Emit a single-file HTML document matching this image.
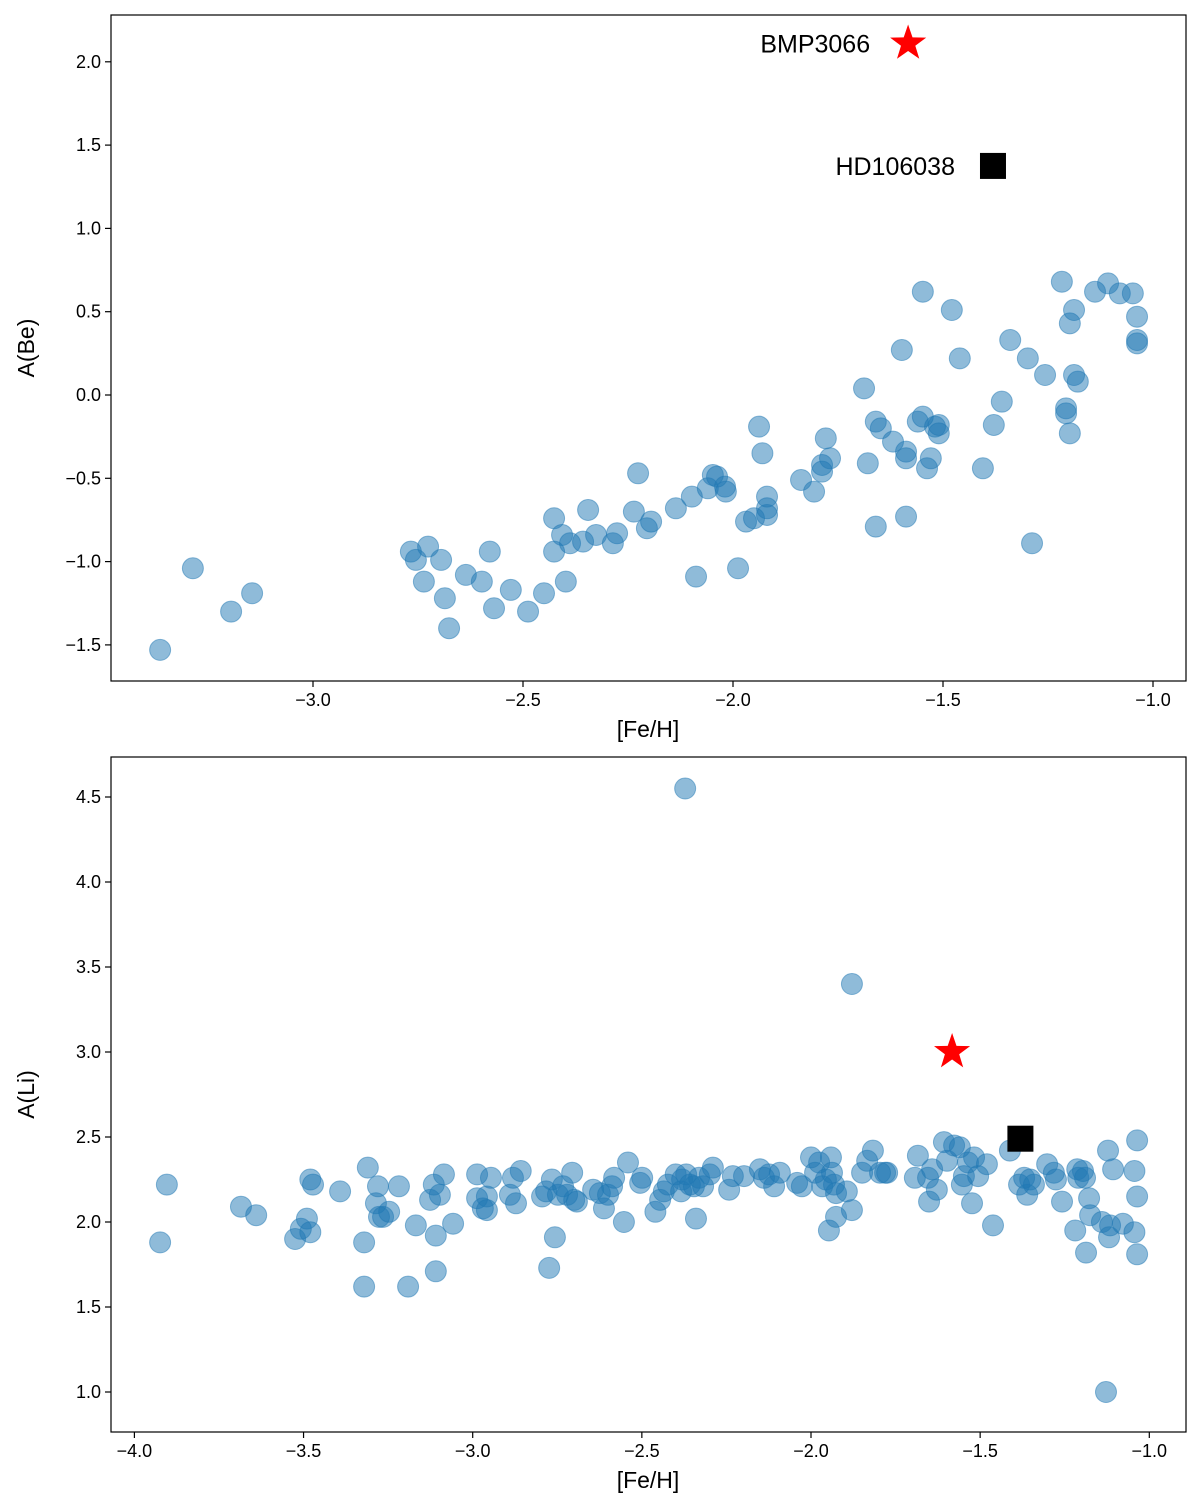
<!DOCTYPE html>
<html><head><meta charset="utf-8"><style>
body{margin:0;background:#fff;}
svg{display:block;font-family:"Liberation Sans","DejaVu Sans",sans-serif;}
</style></head><body>
<svg id="chart" width="1200" height="1500" xmlns="http://www.w3.org/2000/svg"></svg>
<script>
const beFe=[-3.364,-3.286,-3.195,-3.145,-2.767,-2.755,-2.726,-2.736,-2.695,-2.686,-2.676,-2.636,-2.598,-2.579,-2.569,-2.529,-2.488,-2.45,-2.426,-2.426,-2.407,-2.398,-2.388,-2.357,-2.345,-2.326,-2.286,-2.276,-2.236,-2.226,-2.205,-2.195,-2.136,-2.098,-2.088,-2.06,-2.048,-2.038,-2.019,-2.017,-1.988,-1.969,-1.95,-1.938,-1.93,-1.919,-1.919,-1.919,-1.838,-1.807,-1.788,-1.788,-1.779,-1.769,-1.688,-1.679,-1.66,-1.66,-1.648,-1.619,-1.598,-1.588,-1.588,-1.588,-1.56,-1.548,-1.548,-1.538,-1.529,-1.519,-1.51,-1.51,-1.479,-1.46,-1.405,-1.379,-1.36,-1.34,-1.298,-1.288,-1.257,-1.217,-1.207,-1.207,-1.198,-1.198,-1.188,-1.188,-1.179,-1.138,-1.107,-1.079,-1.048,-1.038,-1.038,-1.038];
const beVal=[-1.53,-1.04,-1.30,-1.19,-0.94,-0.99,-0.91,-1.12,-0.99,-1.22,-1.40,-1.08,-1.12,-0.94,-1.28,-1.17,-1.30,-1.19,-0.74,-0.94,-0.84,-1.12,-0.89,-0.88,-0.69,-0.84,-0.89,-0.83,-0.70,-0.47,-0.80,-0.76,-0.68,-0.61,-1.09,-0.56,-0.48,-0.49,-0.55,-0.58,-1.04,-0.76,-0.74,-0.19,-0.35,-0.61,-0.68,-0.72,-0.51,-0.58,-0.42,-0.46,-0.26,-0.38,0.04,-0.41,-0.16,-0.79,-0.20,-0.28,0.27,-0.34,-0.38,-0.73,-0.16,0.62,-0.13,-0.44,-0.38,-0.19,-0.18,-0.23,0.51,0.22,-0.44,-0.18,-0.04,0.33,0.22,-0.89,0.12,0.68,-0.08,-0.11,0.43,-0.23,0.51,0.12,0.08,0.62,0.67,0.61,0.61,0.47,0.33,0.31];
const liFe=[-3.924,-3.904,-3.685,-3.64,-3.525,-3.508,-3.49,-3.48,-3.48,-3.472,-3.392,-3.321,-3.321,-3.31,-3.286,-3.28,-3.277,-3.265,-3.247,-3.218,-3.191,-3.168,-3.126,-3.115,-3.109,-3.109,-3.097,-3.085,-3.058,-2.987,-2.987,-2.97,-2.958,-2.958,-2.946,-2.89,-2.881,-2.872,-2.858,-2.795,-2.783,-2.774,-2.766,-2.757,-2.748,-2.733,-2.721,-2.706,-2.7,-2.692,-2.644,-2.624,-2.612,-2.6,-2.588,-2.582,-2.553,-2.541,-2.505,-2.499,-2.46,-2.446,-2.435,-2.423,-2.4,-2.384,-2.381,-2.372,-2.369,-2.358,-2.346,-2.34,-2.331,-2.319,-2.299,-2.29,-2.242,-2.231,-2.198,-2.151,-2.139,-2.124,-2.109,-2.092,-2.041,-2.027,-2.0,-1.988,-1.976,-1.967,-1.956,-1.947,-1.941,-1.938,-1.932,-1.926,-1.926,-1.894,-1.879,-1.879,-1.849,-1.834,-1.817,-1.796,-1.781,-1.775,-1.693,-1.684,-1.654,-1.651,-1.642,-1.628,-1.607,-1.598,-1.577,-1.56,-1.554,-1.548,-1.536,-1.524,-1.518,-1.506,-1.48,-1.462,-1.412,-1.385,-1.37,-1.361,-1.352,-1.341,-1.302,-1.282,-1.276,-1.258,-1.219,-1.213,-1.21,-1.196,-1.19,-1.187,-1.178,-1.175,-1.14,-1.128,-1.122,-1.119,-1.116,-1.107,-1.078,-1.044,-1.044,-1.036,-1.036,-1.036];
const liVal=[1.88,2.22,2.09,2.04,1.90,1.96,2.02,2.25,1.94,2.22,2.18,1.88,1.62,2.32,2.11,2.21,2.03,2.03,2.06,2.21,1.62,1.98,2.13,2.22,1.92,1.71,2.16,2.28,1.99,2.28,2.14,2.08,2.15,2.07,2.26,2.16,2.26,2.11,2.30,2.15,2.18,1.73,2.25,1.91,2.16,2.21,2.16,2.29,2.13,2.12,2.19,2.17,2.08,2.16,2.21,2.26,2.00,2.35,2.23,2.26,2.06,2.13,2.18,2.22,2.28,2.18,2.25,4.55,2.28,2.22,2.21,2.02,2.26,2.21,2.28,2.32,2.19,2.27,2.27,2.31,2.26,2.28,2.21,2.29,2.23,2.21,2.38,2.29,2.35,2.21,2.25,1.95,2.38,2.29,2.22,2.17,2.03,2.18,3.40,2.07,2.29,2.36,2.42,2.29,2.29,2.29,2.26,2.39,2.26,2.12,2.31,2.19,2.47,2.36,2.45,2.44,2.22,2.27,2.35,2.11,2.38,2.27,2.34,1.98,2.42,2.22,2.26,2.16,2.25,2.22,2.34,2.29,2.25,2.12,1.95,2.31,2.26,2.30,2.26,1.82,2.14,2.04,2.00,1.00,2.42,1.91,1.98,2.31,1.99,2.30,1.94,2.48,2.15,1.81];
const bmpFe=-1.583, bmpBe=2.11, bmpLi=3.0;
const hdFe=-1.381, hdBe=1.375, hdLi=2.49;
const topXTicks=[-3.0,-2.5,-2.0,-1.5,-1.0];
const topYTicks=[2.0,1.5,1.0,0.5,0.0,-0.5,-1.0,-1.5];
const botXTicks=[-4.0,-3.5,-3.0,-2.5,-2.0,-1.5,-1.0];
const botYTicks=[4.5,4.0,3.5,3.0,2.5,2.0,1.5,1.0];

const svg=document.getElementById('chart');
const NS='http://www.w3.org/2000/svg';
function mk(tag,attrs,parent){const e=document.createElementNS(NS,tag);for(const k in attrs)e.setAttribute(k,attrs[k]);(parent||svg).appendChild(e);return e;}
function fmt(v){return (v<0?'\u2212':'')+Math.abs(v).toFixed(1);}
function starPts(cx,cy,R,r){let p=[];for(let i=0;i<10;i++){const a=-Math.PI/2+i*Math.PI/5;const rr=i%2?r:R;p.push((cx+rr*Math.cos(a)).toFixed(1)+','+(cy+rr*Math.sin(a)).toFixed(1));}return p.join(' ');}

function panel(o){
  const g=mk('g',{});
  
  
  const X=v=>o.x0px+(v-o.x0v)*o.xs, Y=v=>o.y0px-(v-o.y0v)*o.ys;
  const pts=mk('g',{},g);
  
  
  o.xs_.forEach((xv,i)=>{
    const c=mk('circle',{cx:X(xv),cy:Y(o.ys_[i]),r:10.5,fill:'#1f77b4','fill-opacity':0.5,stroke:'#1f77b4','stroke-opacity':0.5,'stroke-width':1},pts);
    
    
  });
  const s=mk('polygon',{points:starPts(X(bmpFe),Y(o.bmp),19,7.5),fill:'#ff0000'},g);
  
  
  const q=mk('rect',{x:X(hdFe)-13,y:Y(o.hd)-13,width:26,height:26,fill:'#000'},g);
  
  
  if(o.labels){
    const t1=mk('text',{x:X(bmpFe)-38,y:Y(o.bmp)+9,'text-anchor':'end','font-size':25,fill:'#000'},g);
    t1.textContent='BMP3066';
    
    
    const t2=mk('text',{x:X(hdFe)-38,y:Y(o.hd)+9,'text-anchor':'end','font-size':25,fill:'#000'},g);
    t2.textContent='HD106038';
    
    
  }
  const fr=mk('rect',{x:111,y:o.top,width:1075,height:o.bot-o.top,fill:'none',stroke:'#000','stroke-width':1.2},g);
  
  
  o.xt.forEach(v=>{
    mk('line',{x1:X(v),x2:X(v),y1:o.bot,y2:o.bot+6,stroke:'#000','stroke-width':1.2},g);
    const t=mk('text',{x:X(v),y:o.bot+25,'text-anchor':'middle','font-size':18},g);
    t.textContent=fmt(v);
    
    
  });
  o.yt.forEach(v=>{
    mk('line',{x1:105,x2:111,y1:Y(v),y2:Y(v),stroke:'#000','stroke-width':1.2},g);
    const t=mk('text',{x:101,y:Y(v)+6,'text-anchor':'end','font-size':18},g);
    t.textContent=fmt(v);
    
    
  });
  const xl=mk('text',{x:648,y:o.bot+56,'text-anchor':'middle','font-size':23},g);
  xl.textContent='[Fe/H]';
  
  
  const yc=(o.top+o.bot)/2;
  const yl=mk('text',{x:34,y:yc,'text-anchor':'middle','font-size':23,transform:'rotate(-90 34 '+yc+')'},g);
  yl.textContent=o.ylab;
  
  
}
panel({name:'beryllium-panel',top:15,bot:681,x0v:-2.0,x0px:733,xs:420,y0v:0,y0px:395,ys:166.6,xs_:beFe,ys_:beVal,bmp:bmpBe,hd:hdBe,labels:true,xt:topXTicks,yt:topYTicks,ylab:'A(Be)'});
panel({name:'lithium-panel',top:757,bot:1432,x0v:-2.0,x0px:811,xs:338.3,y0v:2.0,y0px:1222,ys:170,xs_:liFe,ys_:liVal,bmp:bmpLi,hd:hdLi,labels:false,xt:botXTicks,yt:botYTicks,ylab:'A(Li)'});
</script>
</body></html>
